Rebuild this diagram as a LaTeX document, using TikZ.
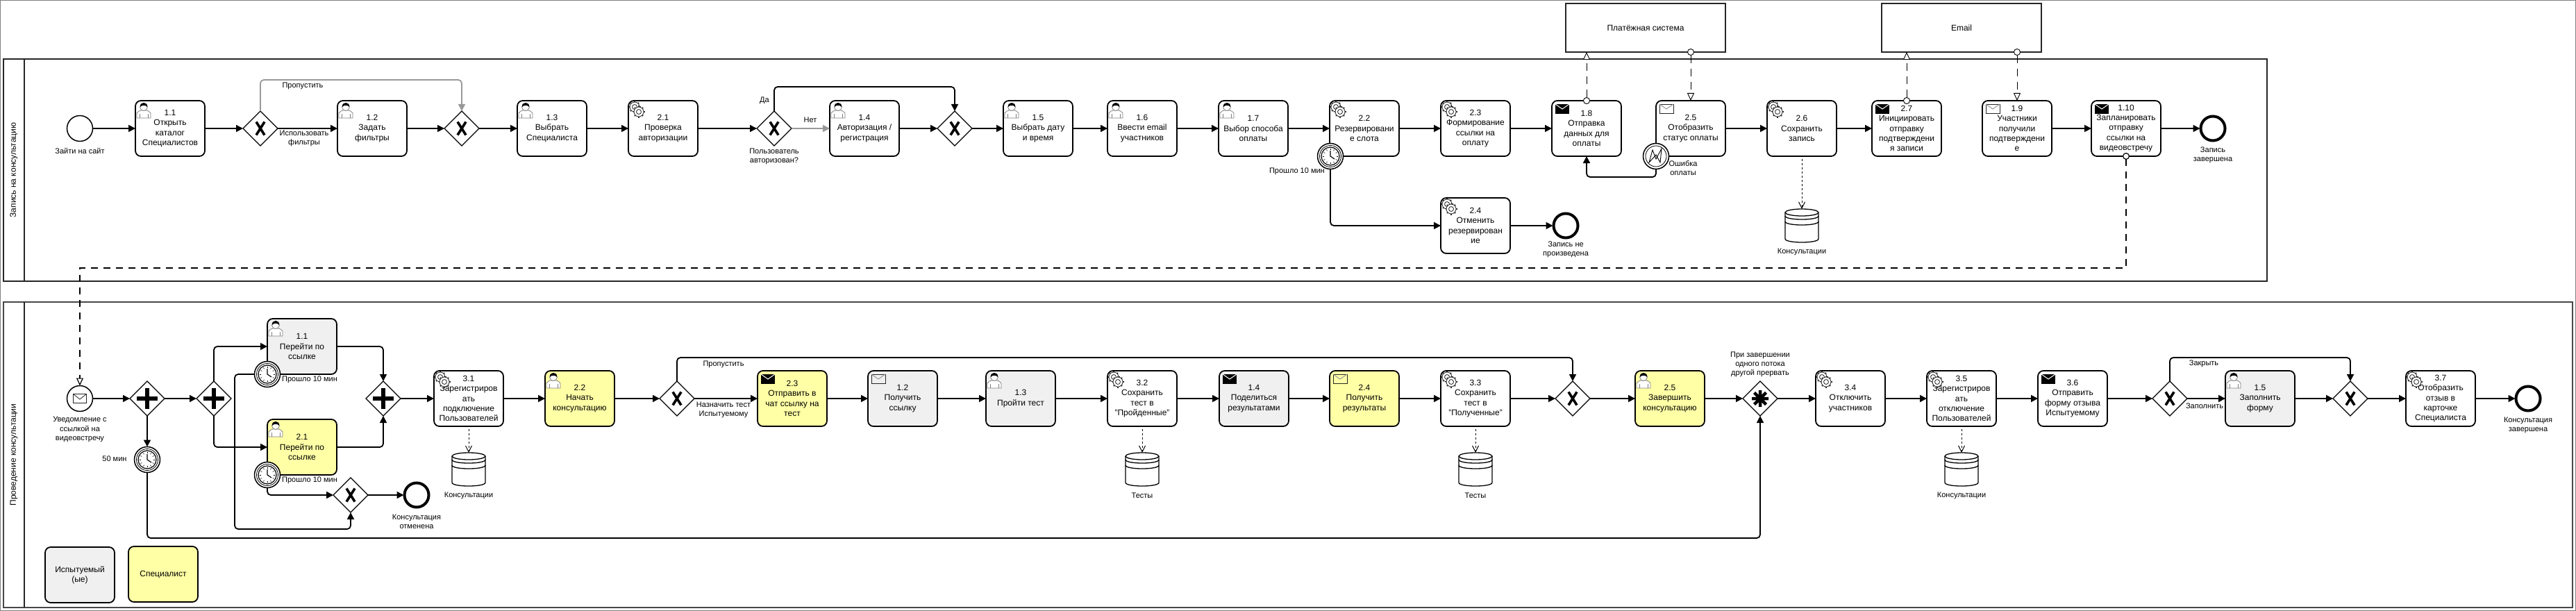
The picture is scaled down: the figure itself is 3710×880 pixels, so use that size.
\documentclass[tikz,border=0pt]{standalone}
\usepackage{fontspec}
\setmainfont{Liberation Sans}
\usepackage{tikz}
\usetikzlibrary{shapes.geometric,arrows.meta}
\definecolor{testfill}{HTML}{F0F0F0}
\definecolor{specfill}{HTML}{FFFFA6}
\definecolor{linedark}{HTML}{262626}
\newcommand{\usericon}[1]{\begin{scope}[shift={(#1.north west)}]
\draw[gray,line width=0.8pt,fill=white] (2,25) -- (2,18) .. controls (3,15) and (6,15) .. (8,14) -- (16,14) .. controls (18,15) and (21,15) .. (22,18) -- (22,25) -- cycle;
\draw[gray,line width=0.8pt] (6,25) -- (6,19) (18,25) -- (18,19);
\draw[gray,line width=0.8pt,fill=white] (12,9) circle[radius=5.5];
\fill[black] (7,9) .. controls (6,1) and (18,1) .. (17,9) .. controls (15,6) and (9,6) .. (7,9) -- cycle;
\end{scope}}
\newcommand{\gearicon}[1]{\begin{scope}[shift={(#1.north west)}]
\foreach \c/\d in {9/9,15/16}{
\foreach \a in {0,45,...,315} \draw[linedark,line width=2pt,shift={(\c,\d)}] (\a:6) -- (\a:8.5);
\draw[linedark,line width=0.8pt,fill=white] (\c,\d) circle[radius=7];
\draw[linedark,line width=0.8pt] (\c,\d) circle[radius=3.5];}
\end{scope}}
\newcommand{\envicon}[1]{\begin{scope}[shift={(#1.north west)}]
\draw[linedark,line width=0.8pt] (5,5) rectangle (25,18);
\draw[white!60!black,line width=1pt] (5,5) -- (15,12) -- (25,5);
\end{scope}}
\newcommand{\envevent}[1]{\begin{scope}[shift={(#1.center)}]
\draw[linedark,line width=0.8pt] (-9.5,-6.5) rectangle (9.5,6.5);
\draw[linedark,line width=0.8pt] (-9.5,-6.5) -- (0,1) -- (9.5,-6.5);
\end{scope}}
\newcommand{\envsend}[1]{\begin{scope}[shift={(#1.north west)}]
\fill[black] (5,5) rectangle (25,19);
\draw[white,line width=1pt] (5,5) -- (15,12) -- (25,5);
\end{scope}}
\newcommand{\clockicon}[1]{\begin{scope}[shift={(#1.center)}]
\draw[line width=0.8pt] (0,0) circle[radius=15.5];
\draw[line width=1.2pt] (0,0) circle[radius=13];
\foreach \a in {0,30,...,330} \draw[line width=0.6pt] (\a:9) -- (\a:11);
\draw[line width=1.2pt] (0,-8) -- (0,0) -- (6,4);
\end{scope}}
\newcommand{\erroricon}[1]{\begin{scope}[shift={(#1.center)}]
\draw[line width=0.8pt] (0,0) circle[radius=15];
\draw[line width=0.9pt] (-10,9) -- (-5,-9) -- (0,4) -- (8,-11) -- (6,9) -- (0,-2) -- cycle;
\end{scope}}
\newcommand{\xormark}[1]{\draw[line width=3.6pt,shift={(#1.center)}] (-6,-9.5) -- (6,9.5) (6,-9.5) -- (-6,9.5);}
\newcommand{\andmark}[1]{\draw[line width=6pt,shift={(#1.center)}] (-15,0) -- (15,0) (0,-15) -- (0,15);}
\newcommand{\anymark}[1]{\draw[line width=4.5pt,shift={(#1.center)}] (-12,0) -- (12,0) (0,-12) -- (0,12) (-8.5,-8.5) -- (8.5,8.5) (-8.5,8.5) -- (8.5,-8.5);}
\newcommand{\dbicon}[1]{\begin{scope}[shift={(#1.center)},line width=1.3pt]
\draw (-24,-19) -- (-24,19) .. controls (-24,25.7) and (24,25.7) .. (24,19) -- (24,-19);
\draw (0,-19) ellipse (24 and 5);
\draw (-24,-14) .. controls (-24,-7.3) and (24,-7.3) .. (24,-14);
\draw (-24,-6) .. controls (-24,0.7) and (24,0.7) .. (24,-6);
\end{scope}}
\begin{document}
\begin{tikzpicture}[x=1pt,y=-1pt,
taskbox/.style={draw,line width=1.8pt,rounded corners=8pt,minimum width=100pt,minimum height=80pt,inner sep=0pt,outer sep=0pt,align=center,fill=white,font=\fontsize{12}{14.4}\selectfont},
testbox/.style={taskbox,fill=testfill},
specbox/.style={taskbox,fill=specfill},
extbox/.style={draw=linedark,line width=1.8pt,minimum width=230pt,minimum height=70pt,inner sep=0pt,outer sep=0pt,font=\fontsize{12}{14.4}\selectfont},
gatebox/.style={draw,diamond,line width=1.3pt,minimum width=50pt,minimum height=50pt,inner sep=0pt,outer sep=0pt,fill=white},
startev/.style={draw,circle,line width=1.5pt,minimum size=37pt,inner sep=0pt,outer sep=0pt,fill=white},
endev/.style={draw,circle,line width=4pt,minimum size=35pt,inner sep=0pt,outer sep=1pt,fill=white},
storebox/.style={minimum width=48pt,minimum height=48pt,inner sep=0pt,outer sep=0pt},
lbl/.style={font=\fontsize{11}{13.2}\selectfont,align=center,inner sep=0pt},
lanelbl/.style={rotate=90,font=\fontsize{12}{14.4}\selectfont,inner sep=0pt},
flow/.style={line width=1.8pt,rounded corners=5pt,-{Triangle[length=10pt,width=10pt]}},
skipflow/.style={flow,color=gray!80},
msgflow/.style={line width=0.9pt,dash pattern=on 11pt off 8pt,{Circle[open,length=10pt,width=10pt,fill=white]}-{Triangle[open,length=11pt,width=10pt,fill=white]},shorten <=-5pt},
linkflow/.style={line width=1.2pt,dash pattern=on 10pt off 8pt,{Circle[open,length=10pt,width=10pt,fill=white]}-{Triangle[open,length=11pt,width=10pt,fill=white]},shorten <=-5pt},
saveflow/.style={line width=1pt,dash pattern=on 2.5pt off 3.5pt,shorten <=4pt,-{Straight Barb[length=9pt,width=9pt]}}]
\useasboundingbox (0,0) rectangle (3710,880);
\draw[gray,line width=1.5pt] (0,0) rectangle (3710,880);
\draw[linedark,line width=2pt] (5,85) rectangle (3265,405);
\draw[linedark,line width=1.5pt] (35,85) -- (35,405);
\draw[linedark!85,line width=2pt] (5,435) rectangle (3705,875);
\draw[linedark,line width=1.5pt] (35,435) -- (35,875);
\node[lanelbl] (lanea) at (20,245) {Запись на консультацию};
\node[lanelbl] (laneb) at (20,655) {Проведение консультации};

\node[extbox] (pay) at (2370,40) {Платёжная система};
\node[extbox] (mail) at (2825,40) {Email};

\node[startev] (evstart) at (115,185) {};
\node[taskbox] (ta11) at (245,185) {1.1\\Открыть\\каталог\\Специалистов};
\node[gatebox] (gwa) at (375,185) {};
\node[taskbox] (ta12) at (536,185) {1.2\\Задать\\фильтры};
\node[gatebox] (gwb) at (665,185) {};
\node[taskbox] (ta13) at (795,185) {1.3\\Выбрать\\Специалиста};
\node[taskbox] (ta21) at (955,185) {2.1\\Проверка\\авторизации};
\node[gatebox] (gwc) at (1115,185) {};
\node[taskbox] (ta14) at (1245,185) {1.4\\Авторизация /\\регистрация};
\node[gatebox] (gwd) at (1375,185) {};
\node[taskbox] (ta15) at (1495,185) {1.5\\Выбрать дату\\и время};
\node[taskbox] (ta16) at (1645,185) {1.6\\Ввести email\\участников};
\node[taskbox] (ta17) at (1805,185) {1.7\\Выбор способа\\оплаты};
\node[taskbox] (ta22) at (1965,185) {2.2\\Резервировани\\е слота};
\node[taskbox] (ta23) at (2125,185) {2.3\\Формирование\\ссылки на\\оплату};
\node[taskbox] (ta18) at (2285,185) {1.8\\Отправка\\данных для\\оплаты};
\node[taskbox] (ta25) at (2435,185) {2.5\\Отобразить\\статус оплаты};
\node[taskbox] (ta26) at (2595,185) {2.6\\Сохранить\\запись};
\node[taskbox] (ta27) at (2746,185) {2.7\\Инициировать\\отправку\\подтверждени\\я записи};
\node[taskbox] (ta19) at (2905,185) {1.9\\Участники\\получили\\подтверждени\\е};
\node[taskbox] (ta110) at (3062,185) {1.10\\Запланировать\\отправку\\ссылки на\\видеовстречу};
\node[endev] (evdone) at (3187,185) {};
\node[taskbox] (ta24) at (2125,325) {2.4\\Отменить\\резервирован\\ие};
\node[endev] (evfail) at (2255,325) {};
\node[startev] (tmd) at (1916,225) {};
\node[startev] (erre) at (2385,225) {};
\node[storebox] (dba) at (2595,325) {};
\coordinate (turna) at (520,115);
\coordinate (turnb) at (1245,125);
\coordinate (turnc) at (2335,255);
\coordinate (turnd) at (2000,386);

\usericon{ta11}\usericon{ta12}\usericon{ta13}\usericon{ta14}\usericon{ta15}\usericon{ta16}\usericon{ta17}
\gearicon{ta21}\gearicon{ta22}\gearicon{ta23}\gearicon{ta24}\gearicon{ta26}
\envsend{ta18}\envsend{ta27}\envsend{ta110}
\envicon{ta25}\envicon{ta19}
\xormark{gwa}\xormark{gwb}\xormark{gwc}\xormark{gwd}
\clockicon{tmd}\erroricon{erre}\dbicon{dba}

\draw[flow] (evstart) -- (ta11);
\draw[flow] (ta11) -- (gwa);
\draw[flow] (gwa) -- (ta12);
\draw[flow] (ta12) -- (gwb);
\draw[flow] (gwb) -- (ta13);
\draw[flow] (ta13) -- (ta21);
\draw[flow] (ta21) -- (gwc);
\draw[skipflow] (gwc) -- (ta14);
\draw[flow] (ta14) -- (gwd);
\draw[flow] (gwd) -- (ta15);
\draw[flow] (ta15) -- (ta16);
\draw[flow] (ta16) -- (ta17);
\draw[flow] (ta17) -- (ta22);
\draw[flow] (ta22) -- (ta23);
\draw[flow] (ta23) -- (ta18);
\draw[flow] (ta25) -- (ta26);
\draw[flow] (ta26) -- (ta27);
\draw[flow] (ta19) -- (ta110);
\draw[flow] (ta110) -- (evdone);
\draw[flow] (ta24) -- (evfail);
\draw[skipflow] (gwa.north) |- (turna) -| (gwb.north);
\draw[flow] (gwc.north) |- (turnb) -| (gwd.north);
\draw[flow] (tmd.south) |- (ta24.west);
\draw[flow] (erre.south) |- (turnc) -| (ta18.south);
\draw[saveflow] (ta26.south) -- (dba.north);
\draw[msgflow] (ta18.north) -- (ta18.north |- pay.south);
\draw[msgflow] (ta25.north |- pay.south) -- (ta25.north);
\draw[msgflow] (ta27.north) -- (ta27.north |- mail.south);
\draw[msgflow] (ta19.north |- mail.south) -- (ta19.north);

\node[lbl] (lb1) at (115,217) {Зайти на сайт};
\node[lbl] (lb2) at (436,124) {Пропустить};
\node[lbl] (lb3) at (438,199) {Использовать\\фильтры};
\node[lbl] (lb4) at (1101,145) {Да};
\node[lbl] (lb5) at (1167,173) {Нет};
\node[lbl] (lb6) at (1115,225) {Пользователь\\авторизован?};
\node[lbl,anchor=east] (lb7) at (1908,247) {Прошло 10 мин};
\node[lbl] (lb8) at (2424,242) {Ошибка\\оплаты};
\node[lbl] (lb9) at (2255,359) {Запись не\\произведена};
\node[lbl] (lb10) at (2595,363) {Консультации};
\node[lbl] (lb11) at (3187,223) {Запись\\завершена};

\node[startev] (evlink) at (115,574) {};
\node[gatebox] (gpa) at (212,574) {};
\node[gatebox] (gpb) at (308,574) {};
\node[testbox] (tb11) at (435,499) {1.1\\Перейти по\\ссылке};
\node[specbox] (tb21) at (435,644) {2.1\\Перейти по\\ссылке};
\node[gatebox] (gpc) at (552,574) {};
\node[taskbox] (tb31) at (675,574) {3.1\\Зарегистриров\\ать\\подключение\\Пользователей};
\node[specbox] (tb22) at (835,574) {2.2\\Начать\\консультацию};
\node[gatebox] (gxa) at (975,574) {};
\node[specbox] (tb23) at (1141,574) {2.3\\Отправить в\\чат ссылку на\\тест};
\node[testbox] (tb12) at (1300,574) {1.2\\Получить\\ссылку};
\node[testbox] (tb13) at (1470,574) {1.3\\Пройти тест};
\node[taskbox] (tb32) at (1645,574) {3.2\\Сохранить\\тест в\\"Пройденные"};
\node[testbox] (tb14) at (1806,574) {1.4\\Поделиться\\результатами};
\node[specbox] (tb24) at (1965,574) {2.4\\Получить\\результаты};
\node[taskbox] (tb33) at (2125,574) {3.3\\Сохранить\\тест в\\"Полученные"};
\node[gatebox] (gxb) at (2265,574) {};
\node[specbox] (tb25) at (2405,574) {2.5\\Завершить\\консультацию};
\node[gatebox] (gany) at (2535,574) {};
\node[taskbox] (tb34) at (2665,574) {3.4\\Отключить\\участников};
\node[taskbox] (tb35) at (2825,574) {3.5\\Зарегистриров\\ать\\отключение\\Пользователей};
\node[taskbox] (tb36) at (2985,574) {3.6\\Отправить\\форму отзыва\\Испытуемому};
\node[gatebox] (gxc) at (3125,574) {};
\node[testbox] (tb15) at (3255,574) {1.5\\Заполнить\\форму};
\node[gatebox] (gxd) at (3385,574) {};
\node[taskbox] (tb37) at (3515,574) {3.7\\Отобразить\\отзыв в\\карточке\\Специалиста};
\node[endev] (evclosed) at (3641,574) {};
\node[gatebox] (gxe) at (505,713) {};
\node[endev] (evcancel) at (600,713) {};
\node[startev] (tma) at (385,539) {};
\node[startev] (tmb) at (385,684) {};
\node[startev] (tmc) at (212,662) {};
\node[storebox] (dbb) at (675,676) {};
\node[storebox] (dbc) at (1645,676) {};
\node[storebox] (dbd) at (2125,676) {};
\node[storebox] (dbe) at (2825,676) {};
\node[testbox] (keya) at (115,828) {Испытуемый\\(ые)};
\node[specbox] (keyb) at (235,827) {Специалист};
\coordinate (turne) at (338,762);
\coordinate (turnf) at (1000,775);
\coordinate (turng) at (1500,515);
\coordinate (turnh) at (3255,515);

\usericon{tb11}\usericon{tb21}\usericon{tb22}\usericon{tb13}\usericon{tb25}\usericon{tb15}
\gearicon{tb31}\gearicon{tb32}\gearicon{tb33}\gearicon{tb34}\gearicon{tb35}\gearicon{tb37}
\envsend{tb23}\envsend{tb14}\envsend{tb36}
\envicon{tb12}\envicon{tb24}
\envevent{evlink}
\andmark{gpa}\andmark{gpb}\andmark{gpc}\anymark{gany}
\xormark{gxa}\xormark{gxb}\xormark{gxc}\xormark{gxd}\xormark{gxe}
\clockicon{tma}\clockicon{tmb}\clockicon{tmc}
\dbicon{dbb}\dbicon{dbc}\dbicon{dbd}\dbicon{dbe}

\draw[flow] (evlink) -- (gpa);
\draw[flow] (gpa) -- (gpb);
\draw[flow] (gpa) -- (tmc);
\draw[flow] (gpb.north) |- (tb11.west);
\draw[flow] (gpb.south) |- (tb21.west);
\draw[flow] (tb11.east) -| (gpc.north);
\draw[flow] (tb21.east) -| (gpc.south);
\draw[flow] (gpc) -- (tb31);
\draw[flow] (tb31) -- (tb22);
\draw[flow] (tb22) -- (gxa);
\draw[flow] (gxa) -- (tb23);
\draw[flow] (tb23) -- (tb12);
\draw[flow] (tb12) -- (tb13);
\draw[flow] (tb13) -- (tb32);
\draw[flow] (tb32) -- (tb14);
\draw[flow] (tb14) -- (tb24);
\draw[flow] (tb24) -- (tb33);
\draw[flow] (tb33) -- (gxb);
\draw[flow] (gxb) -- (tb25);
\draw[flow] (tb25) -- (gany);
\draw[flow] (gany) -- (tb34);
\draw[flow] (tb34) -- (tb35);
\draw[flow] (tb35) -- (tb36);
\draw[flow] (tb36) -- (gxc);
\draw[flow] (gxc) -- (tb15);
\draw[flow] (tb15) -- (gxd);
\draw[flow] (gxd) -- (tb37);
\draw[flow] (tb37) -- (evclosed);
\draw[flow] (gxe) -- (evcancel);
\draw[flow] (tmb.south) |- (gxe.west);
\draw[flow] (tma.west) -| (turne) -| (gxe.south);
\draw[flow] (tmc.south) |- (turnf) -| (gany.south);
\draw[flow] (gxa.north) |- (turng) -| (gxb.north);
\draw[flow] (gxc.north) |- (turnh) -| (gxd.north);
\draw[saveflow] (tb31.south) -- (dbb.north);
\draw[saveflow] (tb32.south) -- (dbc.north);
\draw[saveflow] (tb33.south) -- (dbd.north);
\draw[saveflow] (tb35.south) -- (dbe.north);
\draw[linkflow] (ta110.south) |- (turnd) -| (evlink.north);

\node[lbl] (lc1) at (115,618.5) {Уведомление с\\ссылкой на\\видеовстречу};
\node[lbl] (lc2) at (165,661) {50 мин};
\node[lbl] (lc3) at (446,547) {Прошло 10 мин};
\node[lbl] (lc4) at (446,692) {Прошло 10 мин};
\node[lbl] (lc5) at (600,751) {Консультация\\отменена};
\node[lbl] (lc6) at (675,714) {Консультации};
\node[lbl] (lc7) at (1042,525) {Пропустить};
\node[lbl] (lc8) at (1042,590.5) {Назначить тест\\Испытуемому};
\node[lbl] (lc9) at (1645,714) {Тесты};
\node[lbl] (lc10) at (2125,714) {Тесты};
\node[lbl] (lc11) at (2535,525) {При завершении\\одного потока\\другой прервать};
\node[lbl] (lc12) at (2825,714) {Консультации};
\node[lbl] (lc13) at (3175,585) {Заполнить};
\node[lbl] (lc14) at (3174,524) {Закрыть};
\node[lbl] (lc15) at (3641,612.5) {Консультация\\завершена};
\end{tikzpicture}
\end{document}
